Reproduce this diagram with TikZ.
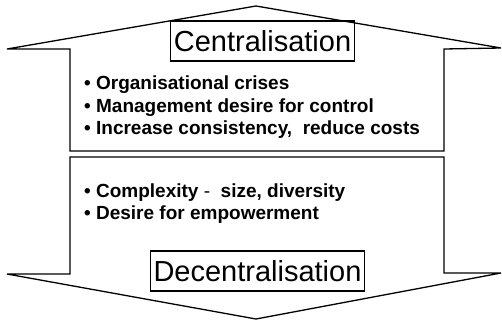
\documentclass[tikz,border=0pt]{standalone}
\usepackage{fontspec}
\setmainfont{Liberation Sans}
\usetikzlibrary{positioning}

\tikzset{
	arrowline/.style={draw=black, line width=1.3pt, line join=miter},
	titlebox/.style={draw=black, line width=1.3pt, inner xsep=3pt, minimum height=40pt, font=\fontsize{29}{30}\selectfont},
	point/.style={anchor=base west, inner sep=0pt, font=\fontsize{19}{21}\selectfont\bfseries}
}

\begin{document}
\begin{tikzpicture}[x=1pt, y=-1pt]
	\useasboundingbox (0,0) rectangle (502,321);

	% upward arrow
	\draw[arrowline] (7,49) -- (256,6) -- (501,48) -- (444,49) -- (444,151) -- (70,151) -- (70,49) -- cycle;
	% downward arrow
	\draw[arrowline] (70,157) -- (444,157) -- (444,273) -- (501,273) -- (256,319) -- (7,274) -- (70,274) -- cycle;

	\node[titlebox] (central) at (262.5,41) {Centralisation};
	\node[titlebox] (decentral) at (257.5,271) {Decentralisation};

	\node[point] (crises) at (84,89) {\textbullet\ Organisational crises};
	\node[point] (control) at (84,112) {\textbullet\ Management desire for control};
	\node[point] (costs) at (84,134) {\textbullet\ Increase consistency,\ \ reduce costs};

	\node[point] (complex) at (84,197) {\textbullet\ Complexity \mdseries-\ \ \bfseries size, diversity};
	\node[point] (empower) at (84,219) {\textbullet\ Desire for empowerment};
\end{tikzpicture}
\end{document}
